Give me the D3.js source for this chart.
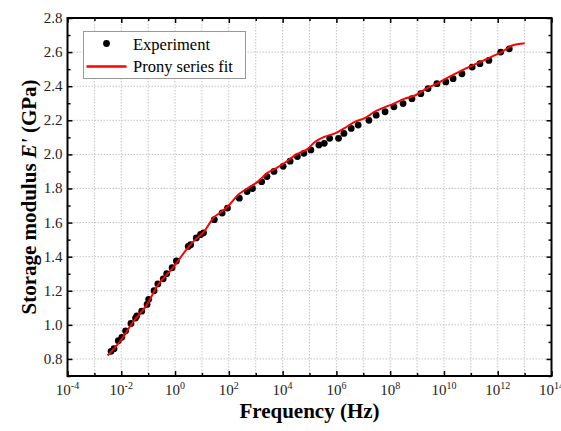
<!DOCTYPE html>
<html>
<head>
<meta charset="utf-8">
<script src="https://cdn.jsdelivr.net/npm/d3@7/dist/d3.min.js"></script>
<style>
body { margin: 0; background: #fff; }
text { font-family: "Liberation Serif", "Times New Roman", serif; }
</style>
</head>
<body>
<svg class="chart" width="561" height="431"></svg>
<script>
// log10 of frequency (Hz) and storage modulus (GPa)
const expLogF = [-2.38, -2.27, -2.11, -1.98, -1.84, -1.64, -1.47, -1.42, -1.24, -1.04, -0.98, -0.78, -0.64, -0.44, -0.31, -0.11, 0.05,
    0.49, 0.58, 0.79, 0.95, 1.06, 1.46, 1.75, 1.95, 2.39, 2.68, 2.88, 3.22, 3.42, 3.68, 4.02, 4.28, 4.55, 4.79, 5.05,
    5.35, 5.55, 5.75, 6.08, 6.28, 6.55, 6.81, 7.21, 7.48, 7.81, 8.14, 8.48, 8.81, 9.14, 9.41, 9.74, 10.07, 10.34,
    10.67, 11.05, 11.34, 11.67, 12.11, 12.43]
const expE = [0.845, 0.86, 0.907, 0.927, 0.965, 1.008, 1.04, 1.053, 1.08, 1.12, 1.15, 1.20, 1.24, 1.27, 1.30, 1.335, 1.375,
    1.46, 1.47, 1.51, 1.53, 1.54, 1.617, 1.656, 1.685, 1.743, 1.782, 1.80, 1.84, 1.87, 1.90, 1.93, 1.96, 1.987, 2.006, 2.026,
    2.055, 2.065, 2.094, 2.094, 2.123, 2.152, 2.172, 2.20, 2.23, 2.25, 2.279, 2.298, 2.327, 2.356, 2.386, 2.415, 2.425, 2.444,
    2.473, 2.512, 2.532, 2.551, 2.60, 2.619]

const fitLogF = [-2.51, -1.98, -1.58, -1.04, -0.64, -0.24, 0.02, 0.42, 0.75, 1.09, 1.42, 1.75, 2.02, 2.35, 2.68, 3.08,
    3.42, 3.75, 4.15, 4.48, 4.95, 5.21, 5.55, 5.95, 6.28, 6.68, 7.08, 7.41, 7.74, 8.14, 8.54, 8.94, 9.34, 9.74,
    10.14, 10.67, 11.21, 11.74, 12.14, 12.54, 13.0]
const fitE = [0.82, 0.917, 1.014, 1.12, 1.234, 1.306, 1.355, 1.442, 1.50, 1.549, 1.627, 1.666, 1.705, 1.763, 1.80, 1.84,
    1.89, 1.918, 1.958, 1.997, 2.035, 2.074, 2.103, 2.123, 2.152, 2.191, 2.214, 2.249, 2.273, 2.298, 2.327, 2.347, 2.386, 2.415,
    2.45, 2.493, 2.532, 2.571, 2.60, 2.639, 2.652]

const xTickExp = [-4, -2, 0, 2, 4, 6, 8, 10, 12, 14]
const xMinorExp = [-3, -1, 1, 3, 5, 7, 9, 11, 13]
const yTicks = [0.8, 1.0, 1.2, 1.4, 1.6, 1.8, 2.0, 2.2, 2.4, 2.6, 2.8]
const yMinor = [0.7, 0.9, 1.1, 1.3, 1.5, 1.7, 1.9, 2.1, 2.3, 2.5, 2.7]

const width = 561
const height = 431
const margin = { top: 18, right: 9.5, bottom: 55, left: 67.5 }
const iw = width - margin.left - margin.right
const ih = height - margin.top - margin.bottom

const svg = d3.select('svg.chart')
const g = svg.append('g').attr('transform', `translate(${margin.left},${margin.top})`)

const x = d3.scaleLog().domain([1e-4, 1e14]).range([0, iw])
const y = d3.scaleLinear().domain([0.7, 2.8]).range([ih, 0])

const xMajor = xTickExp.map(e => Math.pow(10, e))
const xMinor = xMinorExp.map(e => Math.pow(10, e))

// grid
const grid = g.append('g')
    .attr('stroke', '#c4c4c4')
    .attr('stroke-width', 1)
    .attr('stroke-dasharray', '1.5,1.5')
grid.selectAll('line.v')
    .data(xMajor.concat(xMinor))
    .join('line')
    .attr('class', 'v')
    .attr('x1', d => x(d)).attr('x2', d => x(d))
    .attr('y1', 0).attr('y2', ih)
grid.selectAll('line.h')
    .data(yTicks)
    .join('line')
    .attr('class', 'h')
    .attr('x1', 0).attr('x2', iw)
    .attr('y1', d => y(d)).attr('y2', d => y(d))

// axes, ticks pointing inward on all four sides
function styleAxis(sel) {
    sel.select('.domain').remove()
    sel.selectAll('line').attr('stroke', '#000').attr('stroke-width', 1.5)
}

g.append('g').attr('transform', `translate(0,${ih})`)
    .call(d3.axisBottom(x).tickValues(xMajor).tickSize(-5).tickFormat(() => ''))
    .call(styleAxis)
g.append('g').attr('transform', `translate(0,${ih})`)
    .call(d3.axisBottom(x).tickValues(xMinor).tickSize(-3).tickFormat(() => ''))
    .call(styleAxis)
g.append('g')
    .call(d3.axisTop(x).tickValues(xMajor).tickSize(-5).tickFormat(() => ''))
    .call(styleAxis)
g.append('g')
    .call(d3.axisTop(x).tickValues(xMinor).tickSize(-3).tickFormat(() => ''))
    .call(styleAxis)

g.append('g')
    .call(d3.axisLeft(y).tickValues(yTicks).tickSize(-5).tickFormat(() => ''))
    .call(styleAxis)
g.append('g')
    .call(d3.axisLeft(y).tickValues(yMinor).tickSize(-3).tickFormat(() => ''))
    .call(styleAxis)
g.append('g').attr('transform', `translate(${iw},0)`)
    .call(d3.axisRight(y).tickValues(yTicks).tickSize(-5).tickFormat(() => ''))
    .call(styleAxis)
g.append('g').attr('transform', `translate(${iw},0)`)
    .call(d3.axisRight(y).tickValues(yMinor).tickSize(-3).tickFormat(() => ''))
    .call(styleAxis)

// tick labels
const xl = g.append('g')
    .selectAll('text')
    .data(xTickExp)
    .join('text')
    .attr('x', d => x(Math.pow(10, d)))
    .attr('y', ih + 19)
    .attr('text-anchor', 'middle')
    .attr('font-size', 15)
    .attr('fill', '#222')
xl.append('tspan').text('10')
xl.append('tspan').attr('dy', -6).attr('font-size', 10).text(d => d)

g.append('g')
    .selectAll('text')
    .data(yTicks)
    .join('text')
    .attr('x', -5)
    .attr('y', d => y(d) + 5)
    .attr('text-anchor', 'end')
    .attr('font-size', 15)
    .attr('fill', '#222')
    .text(d => d.toFixed(1))

// frame
g.append('rect')
    .attr('width', iw).attr('height', ih)
    .attr('fill', 'none').attr('stroke', '#000').attr('stroke-width', 2)

// data
const expData = expLogF.map((e, i) => ({ f: Math.pow(10, e), v: expE[i] }))
const fitData = fitLogF.map((e, i) => ({ f: Math.pow(10, e), v: fitE[i] }))

g.append('g')
    .selectAll('circle')
    .data(expData)
    .join('circle')
    .attr('cx', d => x(d.f))
    .attr('cy', d => y(d.v))
    .attr('r', 3.4)
    .attr('fill', '#000')

const line = d3.line()
    .x(d => x(d.f))
    .y(d => y(d.v))
    .curve(d3.curveMonotoneX)

g.append('path')
    .datum(fitData)
    .attr('d', line)
    .attr('fill', 'none')
    .attr('stroke', '#ff0000')
    .attr('stroke-width', 2)

// axis titles
svg.append('text')
    .attr('x', margin.left + iw / 2)
    .attr('y', 418)
    .attr('text-anchor', 'middle')
    .attr('font-size', 21)
    .attr('font-weight', 'bold')
    .text('Frequency (Hz)')

const yt = svg.append('text')
    .attr('transform', `translate(36,${margin.top + ih / 2}) rotate(-90)`)
    .attr('text-anchor', 'middle')
    .attr('font-size', 21)
    .attr('font-weight', 'bold')
yt.append('tspan').text('Storage modulus ')
yt.append('tspan').attr('font-style', 'italic').text("E'")
yt.append('tspan').text(' (GPa)')

// legend
const lg = svg.append('g')
lg.append('rect')
    .attr('x', 83.5).attr('y', 31.5)
    .attr('width', 162).attr('height', 47)
    .attr('fill', '#fff').attr('stroke', '#999').attr('stroke-width', 1)
lg.append('circle').attr('cx', 106.5).attr('cy', 43.5).attr('r', 3.4).attr('fill', '#000')
lg.append('line')
    .attr('x1', 86.5).attr('x2', 126.5)
    .attr('y1', 66.5).attr('y2', 66.5)
    .attr('stroke', '#ff0000').attr('stroke-width', 2.5)
lg.append('text').attr('x', 133).attr('y', 49.5).attr('font-size', 16.5).text('Experiment')
lg.append('text').attr('x', 133).attr('y', 72).attr('font-size', 16.5).text('Prony series fit')
</script>
</body>
</html>
